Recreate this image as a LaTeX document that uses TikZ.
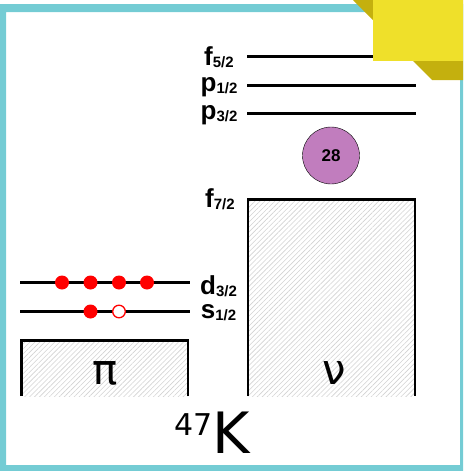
\documentclass[tikz,border=0pt]{standalone}
\usepackage{fontspec}
\setmainfont{Liberation Sans}
\newfontfamily\glyphfont{DejaVu Sans}
\usetikzlibrary{patterns.meta}
\definecolor{frameteal}{RGB}{116,204,212}
\definecolor{cornerdark}{RGB}{196,176,14}
\definecolor{corneryellow}{RGB}{239,224,42}
\definecolor{shellpurple}{RGB}{193,125,190}
\newcommand{\orbit}[2]{#1\raisebox{-2.5pt}{\fontsize{15}{15}\selectfont #2}}
\begin{document}
\begin{tikzpicture}[x=1pt, y=-1pt,
    level/.style={line width=3pt},
    core/.style={line width=2.8pt},
    hatch/.style={pattern={Lines[angle=45, distance=3.5pt, line width=0.6pt]}, pattern color=gray!35},
    orb/.style={anchor=base, inner sep=0pt, font=\fontsize{26}{26}\selectfont\bfseries},
    big/.style={anchor=base, inner sep=0pt, font=\glyphfont\fontsize{42}{42}\selectfont}]
    \useasboundingbox (0,0) rectangle (463,471);
    % frame
    \fill[frameteal, even odd rule] (0,4) rectangle (463,471) (6,12) rectangle (460,465);
    % cores
    \fill[hatch] (248,199.5) rectangle (415,396);
    \draw[core] (248,396) -- (248,199.5) -- (415,199.5) -- (415,396);
    \fill[hatch] (21.5,340.5) rectangle (188,396);
    \draw[core] (21.5,396) -- (21.5,340.5) -- (188,340.5) -- (188,396);
    \node[big] (nu) at (334,384) {ν};
    \node[big] (pi) at (105,384) {π};
    % neutron levels
    \draw[level] (247,56) -- (416,56);
    \draw[level] (247,85) -- (416,85);
    \draw[level] (247,113.5) -- (416,113.5);
    \node[orb] (f52) at (219,65) {\orbit{f}{5/2}};
    \node[orb] (p12) at (219,91) {\orbit{p}{1/2}};
    \node[orb] (p32) at (219,119) {\orbit{p}{3/2}};
    \node[orb] (f72) at (220,207) {\orbit{f}{7/2}};
    \node[circle, draw, thin, fill=shellpurple, minimum size=57pt, inner sep=0pt,
          font=\fontsize{17}{17}\selectfont\bfseries] (magic) at (331,155.5) {28};
    % proton levels
    \draw[level] (20,282.5) -- (190,282.5);
    \draw[level] (20,311.5) -- (190,311.5);
    \node[orb] (d32) at (218.5,294) {\orbit{d}{3/2}};
    \node[orb] (s12) at (218.5,318) {\orbit{s}{1/2}};
    \foreach \x in {62,90.5,119,147}
        \fill[red] (\x,282.5) circle (7);
    \fill[red] (90.5,311.5) circle (7);
    \filldraw[red, fill=white, line width=1.3pt] (119,311.5) circle (6.3);
    % nucleus
    \node[anchor=base west, inner sep=0pt, font=\glyphfont] (nucleus) at (174,453)
        {\fontsize{30}{30}\selectfont\raisebox{18pt}{47}\fontsize{57}{57}\selectfont K};
    % corner
    \fill[cornerdark] (353,0) -- (463,0) -- (463,80) -- (432,80) -- cycle;
    \fill[corneryellow] (373,0) rectangle (463,61);
\end{tikzpicture}
\end{document}
